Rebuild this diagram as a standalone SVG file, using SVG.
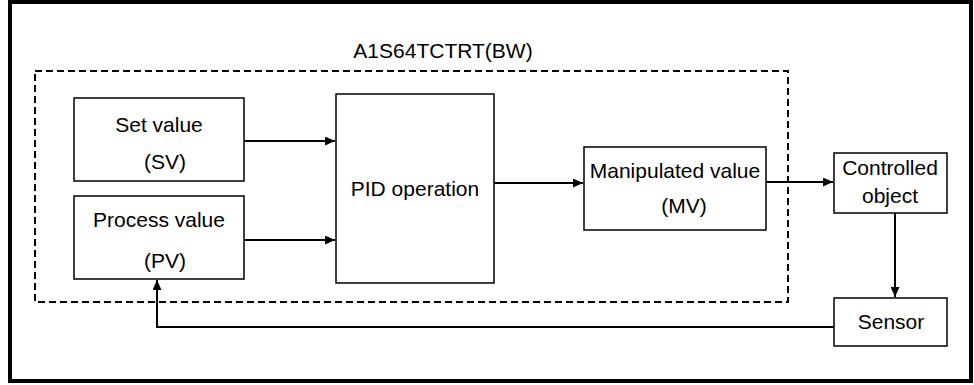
<svg xmlns="http://www.w3.org/2000/svg" width="974" height="385" viewBox="0 0 974 385">
<defs>
<style>
.box{fill:#fff;stroke:#000;stroke-width:1.5}
.t{font-family:"Liberation Sans",Arial,sans-serif;font-size:21px;fill:#000;text-anchor:middle}
.ln{fill:none;stroke:#000;stroke-width:2}
</style>
<marker id="ah" markerWidth="10" markerHeight="9" refX="10" refY="4.5" orient="auto" markerUnits="userSpaceOnUse">
<path d="M0,0 L10,4.5 L0,9 Z" fill="#000"/>
</marker>
</defs>
<rect width="974" height="385" fill="#fff"/>
<rect x="10" y="2" width="961" height="379" fill="none" stroke="#000" stroke-width="4"/>
<g id="module">
<rect x="35" y="71" width="753" height="231" fill="none" stroke="#000" stroke-width="2" stroke-dasharray="7 4"/>
<text class="t" x="443" y="58">A1S64TCTRT(BW)</text>
</g>
<g id="sv">
<rect class="box" x="74" y="98" width="170" height="83"/>
<text class="t" x="159" y="132">Set value</text>
<text class="t" x="165" y="169">(SV)</text>
</g>
<g id="pv">
<rect class="box" x="74" y="196" width="170" height="83"/>
<text class="t" x="159" y="227">Process value</text>
<text class="t" x="165" y="268">(PV)</text>
</g>
<g id="pid">
<rect class="box" x="336" y="94" width="158" height="189"/>
<text class="t" x="415" y="196">PID operation</text>
</g>
<g id="mv">
<rect class="box" x="584" y="147" width="182" height="83"/>
<text class="t" x="675" y="178">Manipulated value</text>
<text class="t" x="684" y="213">(MV)</text>
</g>
<g id="obj">
<rect class="box" x="834" y="153" width="113" height="60"/>
<text class="t" x="890" y="175">Controlled</text>
<text class="t" x="890" y="203">object</text>
</g>
<g id="sensor">
<rect class="box" x="834" y="298" width="113" height="48"/>
<text class="t" x="891" y="329">Sensor</text>
</g>
<g id="connectors">
<line class="ln" x1="244" y1="141" x2="335" y2="141" marker-end="url(#ah)"/>
<line class="ln" x1="244" y1="240" x2="335" y2="240" marker-end="url(#ah)"/>
<line class="ln" x1="494" y1="183" x2="583" y2="183" marker-end="url(#ah)"/>
<line class="ln" x1="766" y1="182" x2="833" y2="182" marker-end="url(#ah)"/>
<line class="ln" x1="895" y1="213" x2="895" y2="297" marker-end="url(#ah)"/>
<polyline class="ln" points="834,327 157,327 157,280" marker-end="url(#ah)"/>
</g>
</svg>
